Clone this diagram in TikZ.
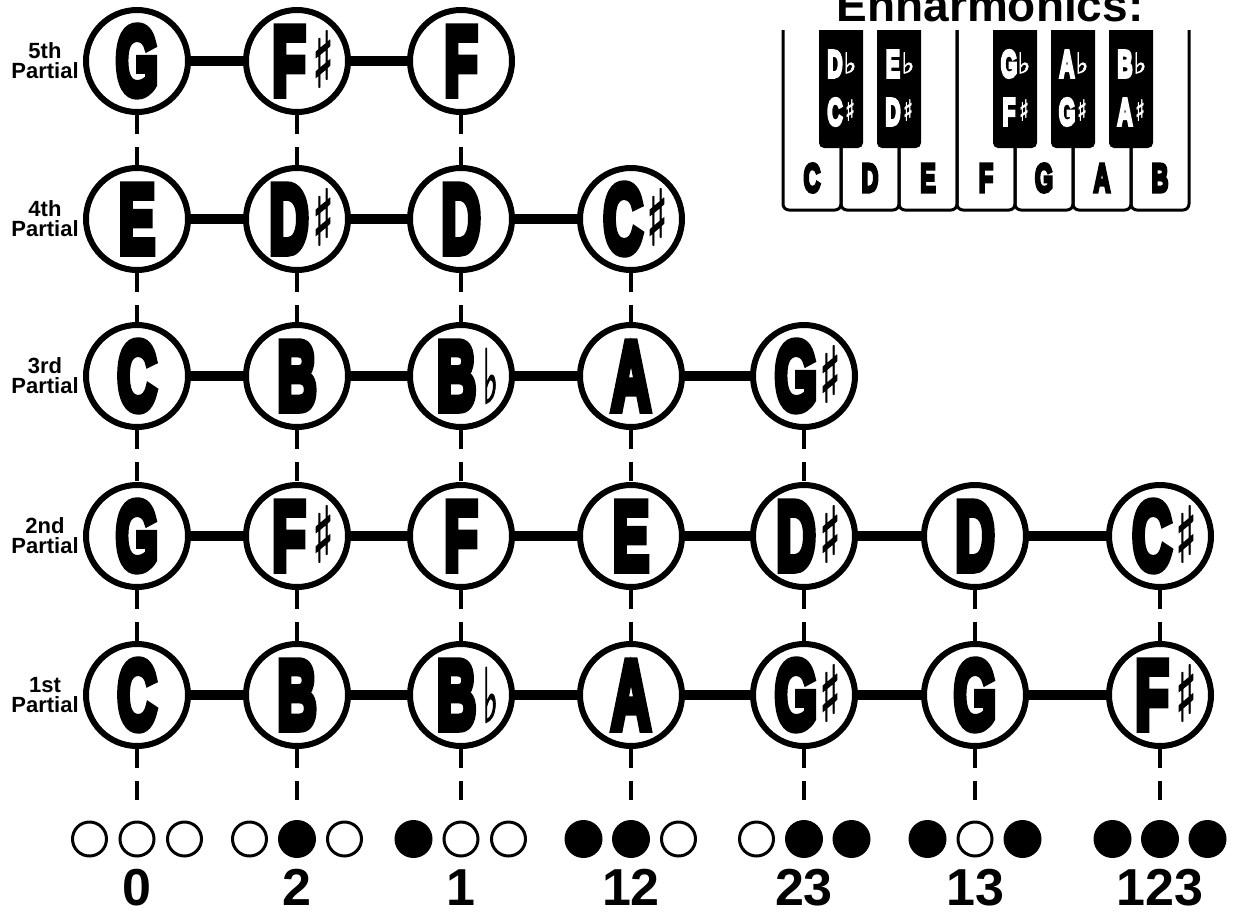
\documentclass[tikz,border=0pt]{standalone}
\usepackage{fontspec}
\usepackage{graphicx}
\setmainfont{Liberation Sans}
\newfontfamily\heavyfont[FakeBold=9]{Liberation Sans Bold}
\newfontfamily\symfont[FakeBold=2]{DejaVu Sans}
\newfontfamily\boldsans{Liberation Sans Bold}
\usetikzlibrary{calc}
\pgfdeclarelayer{bg}
\pgfsetlayers{bg,main}

\newcommand\bigletter[1]{\scalebox{0.56}[1]{\heavyfont\fontsize{97}{97}\selectfont #1}}
\newcommand\keyletter[1]{\scalebox{0.58}[1]{\heavyfont\fontsize{40}{40}\selectfont #1}}
\newcommand\blackletter[1]{\scalebox{0.55}[1]{\heavyfont\fontsize{38}{38}\selectfont #1}}
\newcommand\sharpglyph[2]{\resizebox{#1}{#2}{\raisebox{\depth}{\symfont ♯}}}
\newcommand\flatglyph[2]{\resizebox{#1}{#2}{\raisebox{\depth}{\symfont ♭}}}

\newcommand\natnote[4]{%
  \node[notecirc] (#1) at (#2,#3) {};
  \node[bigl] (#1l) at (#1) {\bigletter{#4}};}
\newcommand\sharpnote[4]{%
  \node[notecirc] (#1) at (#2,#3) {};
  \node[bigl, xshift=-8pt] (#1l) at (#1) {\bigletter{#4}};
  \node[bigl, xshift=26pt, yshift=2pt] (#1a) at (#1) {\sharpglyph{21pt}{56pt}};}
\newcommand\flatnote[4]{%
  \node[notecirc] (#1) at (#2,#3) {};
  \node[bigl, xshift=-4.5pt] (#1l) at (#1) {\bigletter{#4}};
  \node[bigl, xshift=29.5pt] (#1a) at (#1) {\flatglyph{15pt}{55pt}};}
\newcommand\valves[6]{%
  \node[#3] (#1a) at (#2-47.5,839) {};
  \node[#4] (#1b) at (#2,839) {};
  \node[#5] (#1c) at (#2+47.5,839) {};
  \node[fnum] (#1n) at (#2,905) {#6};}

\begin{document}
\begin{tikzpicture}[x=1pt,y=-1pt,
  notecirc/.style={circle, draw=black, line width=6pt, fill=white, minimum size=102pt, inner sep=0pt},
  bigl/.style={inner sep=0pt, outer sep=0pt},
  hconn/.style={line width=10pt},
  vconn/.style={line width=4pt, dash pattern=on 19pt off 13pt},
  holeopen/.style={circle, draw=black, line width=3pt, fill=white, minimum size=34pt, inner sep=0pt},
  holeshut/.style={circle, fill=black, minimum size=38pt, inner sep=0pt},
  fnum/.style={inner sep=0pt, anchor=base, font=\boldsans\fontsize{52}{52}\selectfont},
  plabel/.style={inner sep=0pt, align=center, font=\boldsans\fontsize{22}{20}\selectfont},
  keyline/.style={line width=3pt, rounded corners=6pt},
  keyw/.style={inner sep=0pt},
  keyb/.style={inner sep=0pt, text=white}
]
\useasboundingbox (0,0) rectangle (1243,911);

% partial labels
\node[plabel] (p5) at (45,61) {5th\\Partial};
\node[plabel] (p4) at (45,219) {4th\\Partial};
\node[plabel] (p3) at (45,376) {3rd\\Partial};
\node[plabel] (p2) at (45,536) {2nd\\Partial};
\node[plabel] (p1) at (45,695) {1st\\Partial};

% row 5
\natnote{n51}{137}{61}{G}
\sharpnote{n52}{297}{61}{F}
\natnote{n53}{461}{61}{F}
% row 4
\natnote{n41}{137}{219}{E}
\sharpnote{n42}{297}{219}{D}
\natnote{n43}{461}{219}{D}
\sharpnote{n44}{631}{219}{C}
% row 3
\natnote{n31}{137}{376}{C}
\natnote{n32}{297}{376}{B}
\flatnote{n33}{461}{376}{B}
\natnote{n34}{631}{376}{A}
\sharpnote{n35}{804}{376}{G}
% row 2
\natnote{n21}{137}{536}{G}
\sharpnote{n22}{297}{536}{F}
\natnote{n23}{461}{536}{F}
\natnote{n24}{631}{536}{E}
\sharpnote{n25}{804}{536}{D}
\natnote{n26}{975}{536}{D}
\sharpnote{n27}{1160}{536}{C}
% row 1
\natnote{n11}{137}{695}{C}
\natnote{n12}{297}{695}{B}
\flatnote{n13}{461}{695}{B}
\natnote{n14}{631}{695}{A}
\sharpnote{n15}{804}{695}{G}
\natnote{n16}{975}{695}{G}
\sharpnote{n17}{1160}{695}{F}

% bottom ends of the dashed lines
\coordinate (d1) at (137,800);
\coordinate (d2) at (297,800);
\coordinate (d3) at (461,800);
\coordinate (d4) at (631,800);
\coordinate (d5) at (804,800);
\coordinate (d6) at (975,800);
\coordinate (d7) at (1160,800);

\begin{pgfonlayer}{bg}
  \draw[hconn] (n51.center) -- (n52.center) -- (n53.center);
  \draw[hconn] (n41.center) -- (n42.center) -- (n43.center) -- (n44.center);
  \draw[hconn] (n31.center) -- (n32.center) -- (n33.center) -- (n34.center) -- (n35.center);
  \draw[hconn] (n21.center) -- (n22.center) -- (n23.center) -- (n24.center) -- (n25.center) -- (n26.center) -- (n27.center);
  \draw[hconn] (n11.center) -- (n12.center) -- (n13.center) -- (n14.center) -- (n15.center) -- (n16.center) -- (n17.center);
\end{pgfonlayer}

% vertical dashed connectors
\draw[vconn] (n51.south) -- (n41.north);
\draw[vconn] (n41.south) -- (n31.north);
\draw[vconn] (n31.south) -- (n21.north);
\draw[vconn] (n21.south) -- (n11.north);
\draw[vconn] (n11.south) -- (d1);
\draw[vconn] (n52.south) -- (n42.north);
\draw[vconn] (n42.south) -- (n32.north);
\draw[vconn] (n32.south) -- (n22.north);
\draw[vconn] (n22.south) -- (n12.north);
\draw[vconn] (n12.south) -- (d2);
\draw[vconn] (n53.south) -- (n43.north);
\draw[vconn] (n43.south) -- (n33.north);
\draw[vconn] (n33.south) -- (n23.north);
\draw[vconn] (n23.south) -- (n13.north);
\draw[vconn] (n13.south) -- (d3);
\draw[vconn] (n44.south) -- (n34.north);
\draw[vconn] (n34.south) -- (n24.north);
\draw[vconn] (n24.south) -- (n14.north);
\draw[vconn] (n14.south) -- (d4);
\draw[vconn] (n35.south) -- (n25.north);
\draw[vconn] (n25.south) -- (n15.north);
\draw[vconn] (n15.south) -- (d5);
\draw[vconn] (n26.south) -- (n16.north);
\draw[vconn] (n16.south) -- (d6);
\draw[vconn] (n27.south) -- (n17.north);
\draw[vconn] (n17.south) -- (d7);

% valve fingerings
\valves{v1}{137}{holeopen}{holeopen}{holeopen}{0}
\valves{v2}{297}{holeopen}{holeshut}{holeopen}{2}
\valves{v3}{461}{holeshut}{holeopen}{holeopen}{1}
\valves{v4}{631}{holeshut}{holeshut}{holeopen}{12}
\valves{v5}{804}{holeopen}{holeshut}{holeshut}{23}
\valves{v6}{975}{holeshut}{holeopen}{holeshut}{13}
\valves{v7}{1160}{holeshut}{holeshut}{holeshut}{123}

% keyboard
\node[anchor=base, inner sep=0pt, font=\boldsans\fontsize{46}{46}\selectfont] (title) at (990,21) {Enharmonics:};
\begin{scope}
  \clip (770,30) rectangle (1200,216);
  \foreach \i in {0,...,6} {
    \draw[keyline] ({783+58*\i},30) -- ({783+58*\i},210) -- ({841+58*\i},210) -- ({841+58*\i},30);
  }
  \foreach \k in {841,899,1015,1073,1131} {
    \fill[rounded corners=5pt] (\k-22,0) rectangle (\k+22,148);
  }
\end{scope}
\node[keyw] (kC) at (812,178) {\keyletter{C}};
\node[keyw] (kD) at (870,178) {\keyletter{D}};
\node[keyw] (kE) at (928,178) {\keyletter{E}};
\node[keyw] (kF) at (986,178) {\keyletter{F}};
\node[keyw] (kG) at (1044,178) {\keyletter{G}};
\node[keyw] (kA) at (1102,178) {\keyletter{A}};
\node[keyw] (kB) at (1160,178) {\keyletter{B}};

\foreach \k/\fl/\sh [count=\j] in {841/D/C, 899/E/D, 1015/G/F, 1073/A/G, 1131/B/A} {
  \node[keyb] (bf\j) at (\k-6,64) {\blackletter{\fl}};
  \node[keyb] (bfa\j) at (\k+9,63) {\flatglyph{13pt}{21pt}};
  \node[keyb] (bs\j) at (\k-6,112) {\blackletter{\sh}};
  \node[keyb] (bsa\j) at (\k+9,110) {\sharpglyph{10pt}{21pt}};
}
\end{tikzpicture}
\end{document}
